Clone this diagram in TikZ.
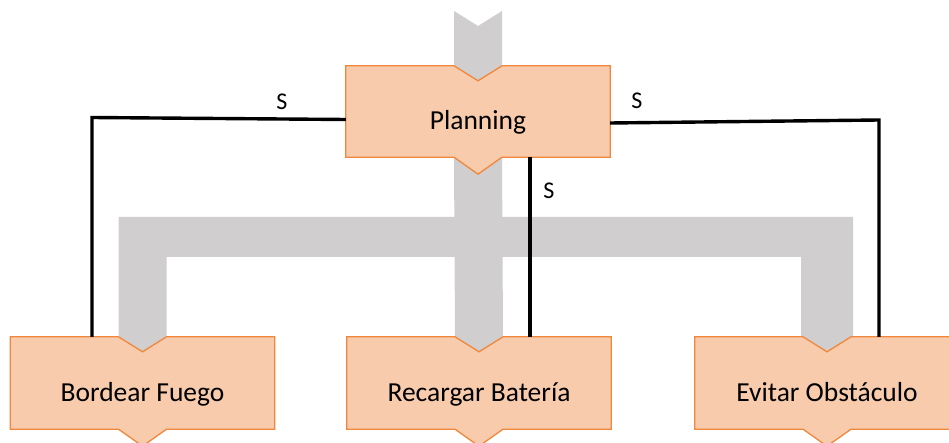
\documentclass[tikz,border=0pt]{standalone}
\usepackage{fontspec}
\setmainfont{Carlito}
\usetikzlibrary{calc}
\definecolor{boxfill}{HTML}{F8CBAD}
\definecolor{boxdraw}{HTML}{F0873A}
\definecolor{flowgray}{HTML}{D0CECE}
\pgfdeclarelayer{bg}
\pgfdeclarelayer{mid}
\pgfsetlayers{bg,mid,main}
\tikzset{
  chevnode/.style={minimum width=264pt, inner sep=0pt, draw=none, text height=37pt, text depth=0pt, font=\fontsize{27.5}{30}\selectfont},
  boxline/.style={fill=boxfill, draw=boxdraw, line width=1.3pt, line join=miter},
  grayflow/.style={fill=flowgray, draw=none},
  wire/.style={draw=black, line width=3.4pt, line join=miter},
  slabel/.style={font=\fontsize{24}{26}\selectfont, inner sep=0pt}
}
\newcommand\chevoutline[1]{%
  \draw[boxline] (#1.north west) -- ([xshift=-24pt]#1.north) -- ([yshift=-15pt]#1.north) -- ([xshift=24pt]#1.north) -- (#1.north east) -- (#1.south east) -- ([xshift=24pt]#1.south) -- ([yshift=-17pt]#1.south) -- ([xshift=-24pt]#1.south) -- (#1.south west) -- cycle;}
\begin{document}
\begin{tikzpicture}[x=1pt,y=-1pt]
\useasboundingbox (0,0) rectangle (949,443);
% nodes
\node[chevnode, minimum height=91pt] (plan) at (478,111.5) {Planning};
\node[chevnode, minimum height=92pt] (bord) at (142.5,383) {Bordear Fuego};
\node[chevnode, minimum height=92pt] (rec) at (479,383) {Recargar Batería};
\node[chevnode, minimum height=92pt] (evit) at (827,383) {Evitar Obstáculo};
% box outlines
\begin{pgfonlayer}{mid}
\chevoutline{plan}
\chevoutline{bord}
\chevoutline{rec}
\chevoutline{evit}
\end{pgfonlayer}
% gray flow arrows
\begin{pgfonlayer}{bg}
\coordinate (intop) at (plan.north |- 0,26);
\fill[grayflow] ([xshift=-24pt]plan.north |- 0,11) -- (intop) -- ([xshift=24pt]plan.north |- 0,11) -- ([xshift=24pt]plan.north) -- ([yshift=-15pt]plan.north) -- ([xshift=-24pt]plan.north) -- cycle;
\fill[grayflow] ([xshift=-24pt]plan.south) -- ([xshift=24pt]plan.south) -- ([xshift=24pt]rec.north) -- ([yshift=-15pt]rec.north) -- ([xshift=-24pt]rec.north) -- cycle;
\fill[grayflow] ([xshift=-24pt]bord.north |- 0,217) -- ([xshift=26pt]evit.north |- 0,217) -- ([xshift=26pt]evit.north) -- ([yshift=-15pt]evit.north) -- ([xshift=-26pt]evit.north) -- ([xshift=-26pt]evit.north |- 0,257) -- ([xshift=24pt]bord.north |- 0,257) -- ([xshift=24pt]bord.north) -- ([yshift=-15pt]bord.north) -- ([xshift=-24pt]bord.north) -- cycle;
\end{pgfonlayer}
% control wires
\coordinate (lc) at (92,117.5);
\coordinate (rc) at (879,120);
\draw[wire] ([yshift=-8pt]plan.west) -- (lc) -- (lc |- bord.north);
\draw[wire] ([yshift=-11.5pt]plan.east) -- (rc) -- (rc |- evit.north);
\draw[wire] ([xshift=52pt]plan.south) -- ([xshift=52pt]plan.south |- rec.north);
% labels
\node[slabel] (s1) at (282,102) {S};
\node[slabel] (s2) at (637,101) {S};
\node[slabel] (s3) at (549,191) {S};
\end{tikzpicture}
\end{document}
